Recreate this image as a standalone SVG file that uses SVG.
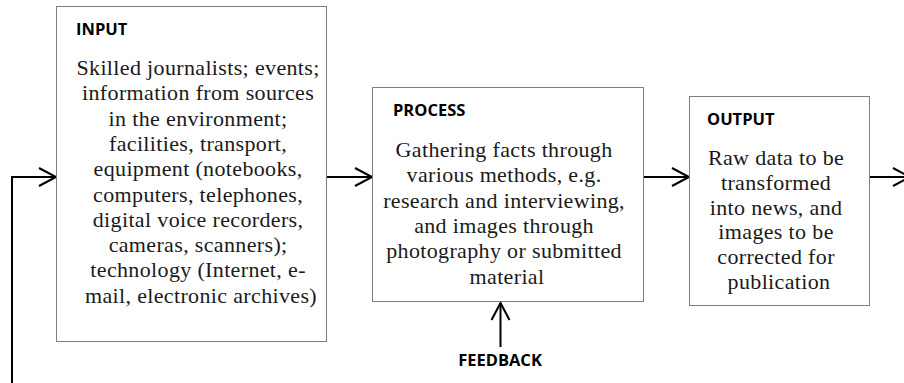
<svg xmlns="http://www.w3.org/2000/svg" width="904" height="383" viewBox="0 0 904 383">
  <style>
    .box { fill: #ffffff; stroke: #7f7f7f; stroke-width: 1; }
    .title { font-family: "Open Sans", "Liberation Sans", sans-serif; font-weight: bold; font-size: 16.5px; fill: #000; }
    .body { font-family: "Liberation Serif", "Times New Roman", serif; font-size: 22px; letter-spacing: 0.35px; fill: #1a1a1a; text-anchor: middle; }
    .conn { fill: none; stroke: #000; stroke-width: 2; }
    .head { fill: none; stroke: #000; stroke-width: 2; stroke-linejoin: miter; }
  </style>
  <rect width="904" height="383" fill="#ffffff"/>

  <g id="connectors">
    <!-- feedback loop into input -->
    <polyline class="conn" points="12,383 12,177 56,177"/>
    <polyline class="head" points="39,168 56,177 39,186"/>
    <!-- input to process -->
    <line class="conn" x1="327" y1="177" x2="372" y2="177"/>
    <polyline class="head" points="355,168 372,177 355,186"/>
    <!-- process to output -->
    <line class="conn" x1="644" y1="177" x2="689" y2="177"/>
    <polyline class="head" points="672,168 689,177 672,186"/>
    <!-- output onward -->
    <line class="conn" x1="870" y1="177" x2="910" y2="177"/>
    <polyline class="head" points="893,168 910,177 893,186"/>
    <!-- feedback to process -->
    <line class="conn" x1="500.5" y1="347" x2="500.5" y2="303"/>
    <polyline class="head" points="491.5,320 500.5,303 509.5,320"/>
  </g>

  <g id="input">
    <rect class="box" x="56.5" y="6.5" width="270" height="335"/>
    <text class="title" x="76" y="35">INPUT</text>
    <text class="body">
      <tspan x="201" y="75">Skilled journalists; events;</tspan>
      <tspan x="201" y="100.3">information from sources</tspan>
      <tspan x="201" y="125.6">in the environment;</tspan>
      <tspan x="201" y="150.9">facilities, transport,</tspan>
      <tspan x="201" y="176.2">equipment (notebooks,</tspan>
      <tspan x="201" y="201.5">computers, telephones,</tspan>
      <tspan x="201" y="226.8">digital voice recorders,</tspan>
      <tspan x="201" y="252.1">cameras, scanners);</tspan>
      <tspan x="201" y="277.4">technology (Internet, e-</tspan>
      <tspan x="201" y="302.7">mail, electronic archives)</tspan>
    </text>
  </g>

  <g id="process">
    <rect class="box" x="372.5" y="87.5" width="271" height="214"/>
    <text class="title" x="393" y="116">PROCESS</text>
    <text class="body">
      <tspan x="507" y="157">Gathering facts through</tspan>
      <tspan x="507" y="182.3">various methods, e.g.</tspan>
      <tspan x="507" y="207.6">research and interviewing,</tspan>
      <tspan x="507" y="232.9">and images through</tspan>
      <tspan x="507" y="258.2">photography or submitted</tspan>
      <tspan x="507" y="283.5">material</tspan>
    </text>
  </g>

  <g id="output">
    <rect class="box" x="689.5" y="96.5" width="180" height="209"/>
    <text class="title" x="707" y="125">OUTPUT</text>
    <text class="body">
      <tspan x="779" y="165">Raw data to be</tspan>
      <tspan x="779" y="189.8">transformed</tspan>
      <tspan x="779" y="214.6">into news, and</tspan>
      <tspan x="779" y="239.4">images to be</tspan>
      <tspan x="779" y="264.2">corrected for</tspan>
      <tspan x="779" y="289">publication</tspan>
    </text>
  </g>

  <g id="feedback">
    <text class="title" x="500" y="366" text-anchor="middle" font-size="16">FEEDBACK</text>
  </g>
</svg>
